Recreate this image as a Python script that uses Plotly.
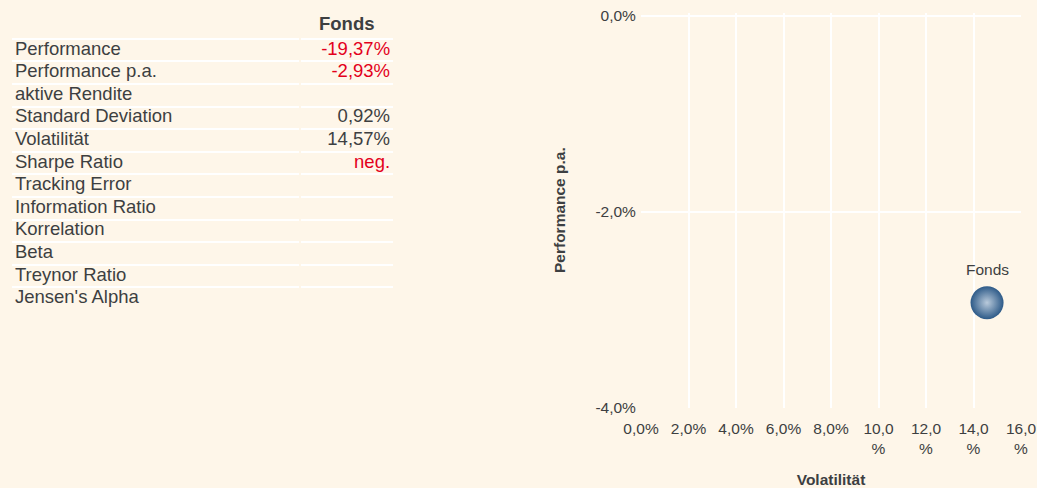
import plotly.graph_objects as go

# ---------------- data ----------------
metrics = ["Performance", "Performance p.a.", "aktive Rendite", "Standard Deviation",
           "Volatilität", "Sharpe Ratio", "Tracking Error", "Information Ratio",
           "Korrelation", "Beta", "Treynor Ratio", "Jensen's Alpha"]
fonds_values = ["-19,37%", "-2,93%", "", "0,92%", "14,57%", "neg.", "", "", "", "", "", ""]
table_header = "Fonds"

point_names = ["Fonds"]
volatility = [14.57]        # x, in %
performance_pa = [-2.93]    # y, in %

x_tickvals = [0, 2, 4, 6, 8, 10, 12, 14, 16]
x_ticktext = ["0,0%", "2,0%", "4,0%", "6,0%", "8,0%", "10,0<br>%", "12,0<br>%", "14,0<br>%", "16,0<br>%"]
y_tickvals = [-4, -2, 0]
y_ticktext = ["-4,0%", "-2,0%", "0,0%"]

# ---------------- style ----------------
BG = "#fef6e9"
TXT = "#3d3f41"
RED = "#e3001b"
FONT = "Liberation Sans, Arial, sans-serif"

W, H = 1037, 488
def px_x(p): return p / W
def px_y(p): return 1 - p / H

rows = ["header"] + metrics
value_colors = [RED if (v.startswith("-") or v.startswith("neg")) else TXT for v in fonds_values]

fig = go.Figure()

# table: label column
fig.add_trace(go.Scatter(
    x=[0] * len(metrics), y=metrics, mode="text", text=metrics,
    textposition="middle right", textfont=dict(family=FONT, size=18.5, color=TXT),
    xaxis="x3", yaxis="y3", hoverinfo="skip", showlegend=False))
# table: value column
fig.add_trace(go.Scatter(
    x=[1] * len(metrics), y=metrics, mode="text", text=fonds_values,
    textposition="middle left", textfont=dict(family=FONT, size=18.5, color=value_colors),
    xaxis="x4", yaxis="y3", hoverinfo="skip", showlegend=False))

# scatter chart
fig.add_trace(go.Scatter(
    x=volatility, y=performance_pa, mode="markers", name=point_names[0],
    marker=dict(size=33, color="#2d5a88",
                gradient=dict(type="radial", color="#b9cadb"),
                line=dict(width=0)),
    xaxis="x", yaxis="y", showlegend=False))

annotations = [
    dict(x=volatility[i], y=performance_pa[i], xref="x", yref="y", text=point_names[i],
         showarrow=False, yshift=33, font=dict(family=FONT, size=15.5, color=TXT))
    for i in range(len(point_names))
]
annotations.append(dict(x=0.5, xref="x4 domain", y="header", yref="y3", text="<b>%s</b>" % table_header,
                        showarrow=False, yshift=4, font=dict(family=FONT, size=18.5, color=TXT)))

table_x_common = dict(showgrid=False, zeroline=False, showticklabels=False,
                      showline=True, mirror=True, linecolor=BG, linewidth=3, fixedrange=True,
                      automargin=False)

Y_TOP = 0.03  # small headroom so the 0 % gridline is drawn
fig.update_layout(
    template="none",
    width=W, height=H,
    autosize=False,
    margin=dict(l=0, r=0, t=0, b=0, pad=0),
    paper_bgcolor=BG, plot_bgcolor=BG,
    font=dict(family=FONT, color=TXT),
    showlegend=False,
    xaxis=dict(
        domain=[px_x(641), px_x(1021)], range=[0, 16], automargin=False,
        tickvals=x_tickvals, ticktext=x_ticktext, ticks="",
        tickfont=dict(size=15.5, color=TXT), ticklabelstandoff=6,
        showgrid=True, gridcolor="white", gridwidth=2,
        zeroline=False, showline=True, linecolor=BG, linewidth=2,
        title=dict(text="<b>Volatilität</b>", font=dict(size=15.5, color=TXT), standoff=23),
        anchor="y",
    ),
    yaxis=dict(
        domain=[px_y(407.5), px_y(15.7 - Y_TOP * 98)], range=[-4, Y_TOP], automargin=False,
        tickvals=y_tickvals, ticktext=y_ticktext, ticks="",
        tickfont=dict(size=15.5, color=TXT),
        showgrid=True, gridcolor="white", gridwidth=2,
        zeroline=False, showline=True, linecolor=BG, linewidth=2,
        title=dict(text="<b>Performance p.a.</b>", font=dict(size=15.5, color=TXT), standoff=26),
        anchor="x",
    ),
    xaxis3=dict(domain=[px_x(12), px_x(299)], range=[-3 / 287, 1], anchor="y3", **table_x_common),
    xaxis4=dict(domain=[px_x(301), px_x(393)], range=[0, 1 + 3 / 92], anchor="y3", **table_x_common),
    yaxis3=dict(
        domain=[px_y(309.9), px_y(16.1)], anchor="x3", automargin=False,
        type="category", categoryorder="array", categoryarray=rows,
        range=[len(rows) - 0.5, -0.5], tickson="boundaries", ticks="",
        showgrid=True, gridcolor="white", gridwidth=2,
        showticklabels=False, zeroline=False, showline=False, fixedrange=True,
    ),
    annotations=annotations,
)

fig.write_html("out.html",
               config={"displayModeBar": False},
               post_script="document.body.style.margin='0';document.body.style.overflow='hidden';")
